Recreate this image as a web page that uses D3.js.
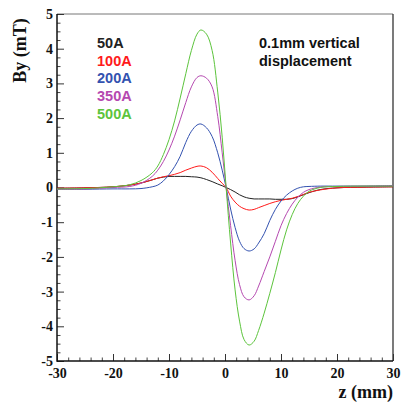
<!DOCTYPE html>
<html>
<head>
<meta charset="UTF-8" />
<style>
  body { margin: 0; background: #fff; }
  .tick text { font-family: "Liberation Serif", "Times New Roman", serif; font-weight: bold; font-size: 14px; fill: #111; }
</style>
</head>
<body>
<div id="app"></div>
<script src="https://cdn.jsdelivr.net/npm/d3@7"></script>
<script>
// z positions (mm) shared by every curve
const zPos = [-30, -25, -20, -17, -15, -13, -12, -11, -10, -9, -8, -7, -6, -5, -4.3, -3.3, -2.3, -1.3, -0.5, 0.2,
  1, 1.8, 2.6, 3.4, 4.3, 5.2, 6, 7, 8, 9, 10, 11, 12, 13, 14, 15, 17, 20, 25, 30];

// By (mT)
const by50 = [-0.02, -0.01, 0.02, 0.07, 0.13, 0.22, 0.27, 0.3, 0.32, 0.32, 0.32, 0.32, 0.31, 0.3, 0.28, 0.23, 0.17, 0.1, 0.05, 0,
  -0.06, -0.13, -0.21, -0.27, -0.31, -0.33, -0.33, -0.33, -0.33, -0.34, -0.34, -0.34, -0.32, -0.27, -0.21, -0.15, -0.06, -0.01, 0.01, 0.02];
const by100 = [-0.02, -0.01, 0.02, 0.07, 0.13, 0.22, 0.27, 0.31, 0.34, 0.38, 0.43, 0.5, 0.56, 0.61, 0.62, 0.57, 0.44, 0.26, 0.12, 0,
  -0.25, -0.42, -0.54, -0.61, -0.65, -0.63, -0.58, -0.52, -0.46, -0.41, -0.37, -0.34, -0.31, -0.26, -0.2, -0.14, -0.07, -0.01, 0.01, 0.02];
const by200 = [-0.05, -0.05, -0.04, -0.04, -0.03, 0.02, 0.07, 0.19, 0.37, 0.6, 0.9, 1.3, 1.62, 1.8, 1.83, 1.72, 1.47, 1.0, 0.5, 0,
  -0.62, -1.15, -1.55, -1.76, -1.83, -1.77, -1.6, -1.33, -0.95, -0.63, -0.39, -0.22, -0.1, -0.02, 0.02, 0.03, 0.04, 0.04, 0.04, 0.05];
const by350 = [-0.05, -0.04, 0.0, 0.03, 0.12, 0.32, 0.5, 0.75, 1.08, 1.48, 1.95, 2.45, 2.9, 3.17, 3.22, 3.15, 2.9, 2.05, 1.0, 0,
  -1.1, -2.1, -2.8, -3.15, -3.24, -3.12, -2.84, -2.42, -2.0, -1.55, -1.1, -0.75, -0.48, -0.28, -0.14, -0.06, 0.01, 0.03, 0.04, 0.05];
const by500 = [-0.04, -0.03, 0.02, 0.08, 0.2, 0.42, 0.62, 0.95, 1.38, 1.92, 2.58, 3.28, 3.95, 4.42, 4.54, 4.42, 3.95, 2.75, 1.45, 0,
  -1.6, -2.95, -3.85, -4.38, -4.54, -4.43, -4.12, -3.62, -3.05, -2.45, -1.8, -1.22, -0.78, -0.46, -0.25, -0.11, 0.0, 0.03, 0.04, 0.04];

const seriesNames = ["50A", "100A", "200A", "350A", "500A"];
const seriesColors = ["#222222", "#ff1a1a", "#3352b0", "#b548b0", "#5cc43c"];
const seriesValues = [by50, by100, by200, by350, by500];

const xMajor = [-30, -20, -10, 0, 10, 20, 30];
const yMajor = [-5, -4, -3, -2, -1, 0, 1, 2, 3, 4, 5];

const w = 401, h = 403;
const padL = 57, padR = 393, padT = 14, padB = 361;

const svg = d3.select("#app").append("svg")
  .attr("width", w)
  .attr("height", h);

const xScale = d3.scaleLinear().domain([-30, 30]).range([padL, padR]);
const yScale = d3.scaleLinear().domain([-5, 5]).range([padB, padT]);

// frame
svg.append("line").attr("x1", padL).attr("x2", padR).attr("y1", padT).attr("y2", padT)
  .attr("stroke", "#777").attr("stroke-width", 1);
svg.append("line").attr("x1", padR).attr("x2", padR).attr("y1", padT).attr("y2", padB)
  .attr("stroke", "#333").attr("stroke-width", 1.3);

// minor ticks
const xMinor = d3.range(-30, 30.01, 2).filter(v => !xMajor.includes(v));
const yMinor = d3.range(-5, 5.001, 0.25).filter(v => Math.abs(v - Math.round(v)) > 0.01);

svg.append("g")
  .attr("transform", "translate(0," + padB + ")")
  .call(d3.axisBottom(xScale).tickValues(xMinor).tickSize(-3.5).tickFormat(""))
  .call(g => g.select(".domain").remove())
  .selectAll("line").attr("stroke", "#444");

svg.append("g")
  .attr("transform", "translate(" + padL + ",0)")
  .call(d3.axisLeft(yScale).tickValues(yMinor).tickSize(-3.5).tickFormat(""))
  .call(g => g.select(".domain").remove())
  .selectAll("line").attr("stroke", "#444");

// major ticks + labels
const xAxis = svg.append("g")
  .attr("transform", "translate(0," + padB + ")")
  .call(d3.axisBottom(xScale).tickValues(xMajor).tickSize(-7).tickPadding(7).tickFormat(d => String(d)));
xAxis.select(".domain").remove();
xAxis.selectAll("line").attr("stroke", "#333");

const yAxis = svg.append("g")
  .attr("transform", "translate(" + padL + ",0)")
  .call(d3.axisLeft(yScale).tickValues(yMajor).tickSize(-7).tickPadding(4).tickFormat(d => String(d)));
yAxis.select(".domain").remove();
yAxis.selectAll("line").attr("stroke", "#333");

// axis lines
svg.append("line").attr("x1", padL).attr("x2", padL).attr("y1", padT).attr("y2", padB + 0.7)
  .attr("stroke", "#111").attr("stroke-width", 1.5);
svg.append("line").attr("x1", padL).attr("x2", padR).attr("y1", padB).attr("y2", padB)
  .attr("stroke", "#111").attr("stroke-width", 1.5);

// curves
const line = d3.line()
  .x((d, i) => xScale(zPos[i]))
  .y(d => yScale(d))
  .curve(d3.curveCatmullRom.alpha(0.5));

svg.append("g").selectAll("path")
  .data(seriesValues)
  .enter()
  .append("path")
  .attr("d", d => line(d))
  .attr("fill", "none")
  .attr("stroke", (d, i) => seriesColors[i])
  .attr("stroke-width", 1);

// legend
svg.append("g").selectAll("text")
  .data(seriesNames)
  .enter()
  .append("text")
  .attr("x", 97)
  .attr("y", (d, i) => 48 + i * 17.65)
  .attr("fill", (d, i) => seriesColors[i])
  .style("font-family", "'Liberation Sans', Arial, sans-serif")
  .style("font-weight", "bold")
  .style("font-size", "14.5px")
  .text(d => d);

// annotation
const note = ["0.1mm vertical", "displacement"];
svg.append("g").selectAll("text")
  .data(note)
  .enter()
  .append("text")
  .attr("x", 259)
  .attr("y", (d, i) => 48 + i * 17.7)
  .attr("fill", "#111")
  .style("font-family", "'Liberation Sans', Arial, sans-serif")
  .style("font-weight", "bold")
  .style("font-size", "14.5px")
  .text(d => d);

// axis titles
svg.append("text")
  .attr("transform", "translate(26,50.5) rotate(-90)")
  .attr("text-anchor", "middle")
  .attr("fill", "#111")
  .style("font-family", "'Liberation Serif', 'Times New Roman', serif")
  .style("font-weight", "bold")
  .style("font-size", "18px")
  .text("By (mT)");

svg.append("text")
  .attr("x", 393)
  .attr("y", 398)
  .attr("text-anchor", "end")
  .attr("fill", "#111")
  .style("font-family", "'Liberation Serif', 'Times New Roman', serif")
  .style("font-weight", "bold")
  .style("font-size", "18px")
  .text("z (mm)");
</script>
</body>
</html>
